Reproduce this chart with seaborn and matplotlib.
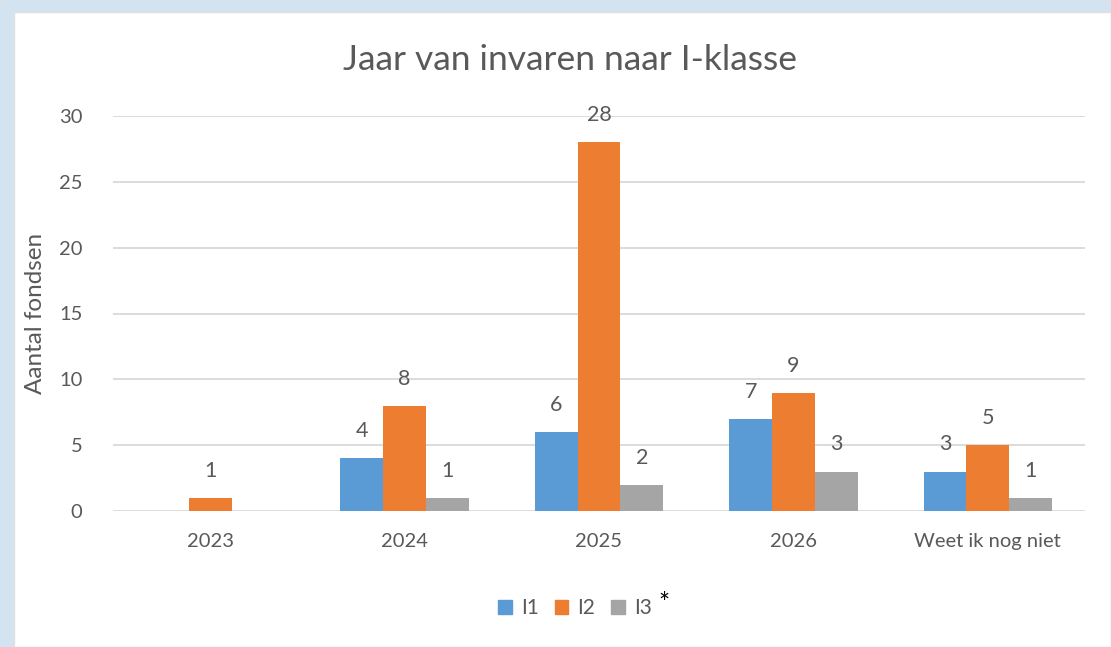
import matplotlib
matplotlib.use("Agg")
import matplotlib.pyplot as plt
import seaborn as sns
import pandas as pd
from matplotlib.patches import Rectangle

categories = ["2023", "2024", "2025", "2026", "Weet ik nog niet"]
series = ["I1", "I2", "I3"]
i1 = [0, 4, 6, 7, 3]
i2 = [1, 8, 28, 9, 5]
i3 = [0, 1, 2, 3, 1]
yticks = [0, 5, 10, 15, 20, 25, 30]

colors = {"I1": "#5B9BD5", "I2": "#ED7D31", "I3": "#A5A5A5"}
text_color = "#595959"

rows = []
for s, vals in zip(series, [i1, i2, i3]):
    for c, v in zip(categories, vals):
        rows.append({"cat": c, "serie": s, "val": v})
df = pd.DataFrame(rows)

sns.set_theme(style="white")
plt.rcParams["font.family"] = ["Lato", "DejaVu Sans"]

fig = plt.figure(figsize=(11.11, 6.47), dpi=100)
fig.patch.set_facecolor("#d3e3ef")

bg = fig.add_axes([0, 0, 1, 1], zorder=-10)
bg.set_xlim(0, 1111)
bg.set_ylim(647, 0)
bg.axis("off")
bg.add_patch(Rectangle((14, 12), 1111 - 14, 647 - 12, facecolor="white",
                       edgecolor="#e0e0e0", lw=1))

ax = fig.add_axes([113 / 1111, 1 - 511 / 647, (1085 - 113) / 1111, (511 - 116) / 647])
ax.set_facecolor("none")

sns.barplot(data=df, x="cat", y="val", hue="serie", order=categories,
            hue_order=series, palette=colors, width=0.66, saturation=1,
            linewidth=0, ax=ax, legend=False)

ax.set_ylim(0, 30)
ax.set_xlim(-0.5, 4.5)
ax.set_yticks(yticks)
ax.yaxis.grid(True, color="#d9d9d9", lw=1.3)
ax.set_axisbelow(True)
for sp in ax.spines.values():
    sp.set_visible(False)
ax.tick_params(axis="both", length=0, labelsize=14.5, colors=text_color)
ax.tick_params(axis="x", pad=16)
ax.tick_params(axis="y", pad=22)
ax.set_xlabel("")
ax.set_ylabel("Aantal fondsen", fontsize=17.5, color=text_color, labelpad=9)

for cont, s in zip(ax.containers, series):
    for bar in cont:
        h = bar.get_height()
        if h > 0:
            ax.annotate(f"{int(h)}", (bar.get_x() + bar.get_width() / 2, h),
                        xytext=(0, 27), textcoords="offset pixels",
                        ha="center", va="center", fontsize=15.5, color=text_color)

fig.text(570 / 1111, 1 - 60 / 647, "Jaar van invaren naar I-klasse",
         ha="center", va="center", fontsize=25.5, color=text_color)

handles = [Rectangle((0, 0), 1, 1, color=colors[s]) for s in series]
leg = fig.legend(handles, series, loc="center", bbox_to_anchor=(575 / 1111, 1 - 608 / 647),
                 ncol=3, frameon=False, fontsize=15, handlelength=0.65, handleheight=0.65,
                 handletextpad=0.45, columnspacing=0.75, labelcolor=text_color)
fig.text(664 / 1111, 1 - 605 / 647, "*", ha="center", va="center", fontsize=19, color="black")

fig.savefig("out.png", dpi=100, facecolor=fig.get_facecolor())
